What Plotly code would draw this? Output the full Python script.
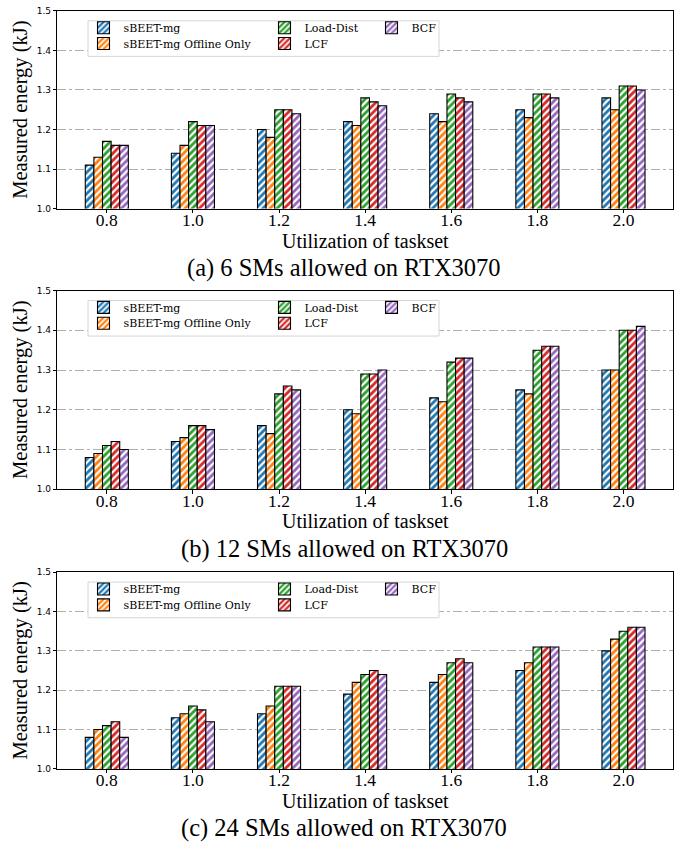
import plotly.graph_objects as go

# ---------------- data ----------------
categories = ["0.8", "1.0", "1.2", "1.4", "1.6", "1.8", "2.0"]
series_names = ["sBEET-mg", "sBEET-mg Offline Only", "Load-Dist", "LCF", "BCF"]
series_colors = ["#1f77b4", "#ff7f0e", "#2ca02c", "#d62728", "#9467bd"]

# (a) 6 SMs
a_sbeet = [1.11, 1.14, 1.20, 1.22, 1.24, 1.25, 1.28]
a_offline = [1.13, 1.16, 1.18, 1.21, 1.22, 1.23, 1.25]
a_loaddist = [1.17, 1.22, 1.25, 1.28, 1.29, 1.29, 1.31]
a_lcf = [1.16, 1.21, 1.25, 1.27, 1.28, 1.29, 1.31]
a_bcf = [1.16, 1.21, 1.24, 1.26, 1.27, 1.28, 1.30]

# (b) 12 SMs
b_sbeet = [1.08, 1.12, 1.16, 1.20, 1.23, 1.25, 1.30]
b_offline = [1.09, 1.13, 1.14, 1.19, 1.22, 1.24, 1.30]
b_loaddist = [1.11, 1.16, 1.24, 1.29, 1.32, 1.35, 1.40]
b_lcf = [1.12, 1.16, 1.26, 1.29, 1.33, 1.36, 1.40]
b_bcf = [1.10, 1.15, 1.25, 1.30, 1.33, 1.36, 1.41]

# (c) 24 SMs
c_sbeet = [1.08, 1.13, 1.14, 1.19, 1.22, 1.25, 1.30]
c_offline = [1.10, 1.14, 1.16, 1.22, 1.24, 1.27, 1.33]
c_loaddist = [1.11, 1.16, 1.21, 1.24, 1.27, 1.31, 1.35]
c_lcf = [1.12, 1.15, 1.21, 1.25, 1.28, 1.31, 1.36]
c_bcf = [1.08, 1.12, 1.21, 1.24, 1.27, 1.31, 1.36]

captions = ["(a) 6 SMs allowed on RTX3070",
            "(b) 12 SMs allowed on RTX3070",
            "(c) 24 SMs allowed on RTX3070"]
y_ticks = [1.0, 1.1, 1.2, 1.3, 1.4, 1.5]

panels_data = [
    [a_sbeet, a_offline, a_loaddist, a_lcf, a_bcf],
    [b_sbeet, b_offline, b_loaddist, b_lcf, b_bcf],
    [c_sbeet, c_offline, c_loaddist, c_lcf, c_bcf],
]

# ---------------- layout helpers ----------------
W, H = 694, 848
PL, PR = 57.3, 673.0
panel_px = [(6, 206), (289, 490), (574, 773)]


def px_x(x):
    return x / W


def px_y(y):
    return 1 - y / H


SERIF = "Liberation Serif, Times New Roman, serif"
LEG_FONT = "DejaVu Serif, serif"

fig = go.Figure()

# legend cell (column, row) for each series, matplotlib ncol=3 ordering
leg_col = [0, 0, 1, 1, 2]
leg_row = [0, 1, 0, 1, 0]
col_symbol_center = [103.5, 284.5, 391.5]

layout_extra = {}
shapes = []
annotations = []

for p, (ytop, ybot) in enumerate(panel_px):
    xa = "x" if p == 0 else f"x{p+1}"
    ya = "y" if p == 0 else f"y{p+1}"
    for s, name in enumerate(series_names):
        leg_idx = p * 5 + s + 1
        leg_name = "legend" if leg_idx == 1 else f"legend{leg_idx}"
        fig.add_trace(go.Bar(
            x=categories, y=panels_data[p][s], name=name,
            xaxis=xa, yaxis=ya, legend=leg_name,
            marker=dict(color="white",
                        line=dict(color="black", width=1.1),
                        pattern=dict(shape="/", fgcolor=series_colors[s],
                                     bgcolor="white", size=5, solidity=0.55,
                                     fillmode="replace")),
            hoverinfo="x+y+name",
        ))
        layout_extra[leg_name] = dict(
            x=px_x(col_symbol_center[leg_col[s]] - 20), xanchor="left",
            y=px_y(ytop + 17 + 16 * leg_row[s]), yanchor="middle",
            bgcolor="rgba(0,0,0,0)", borderwidth=0,
            font=dict(family=LEG_FONT, size=11, color="black"),
            itemclick=False, itemdoubleclick=False,
        )
    # axes
    xkey = "xaxis" if p == 0 else f"xaxis{p+1}"
    ykey = "yaxis" if p == 0 else f"yaxis{p+1}"
    layout_extra[xkey] = dict(
        domain=[px_x(PL), px_x(PR)], anchor=ya, type="category",
        range=[-0.575, 6.575], showline=True, linecolor="black", linewidth=1,
        mirror=True, ticks="outside", ticklen=3.5, tickcolor="black",
        ticklabelstandoff=-8,
        tickfont=dict(family=SERIF, size=17.5, color="black"),
        showgrid=False, zeroline=False, fixedrange=True,
    )
    layout_extra[ykey] = dict(
        domain=[px_y(ybot), px_y(ytop)], anchor=xa,
        range=[1.0, 1.5], tickvals=y_ticks, tickformat=".1f",
        showline=True, linecolor="black", linewidth=1, mirror=True,
        ticks="outside", ticklen=3.5, tickcolor="black",
        tickfont=dict(family="DejaVu Sans, sans-serif", size=9, color="black"),
        showgrid=True, gridcolor="#b0b0b0", gridwidth=1, griddash="dashdot",
        zeroline=False, fixedrange=True,
    )
    # legend frame
    shapes.append(dict(type="rect", xref="paper", yref="paper",
                       x0=px_x(88), x1=px_x(439),
                       y0=px_y(ytop + 46), y1=px_y(ytop + 10),
                       fillcolor="white", line=dict(color="#d6d6d6", width=1),
                       layer="above"))
    # axis titles & caption
    annotations.append(dict(text="Utilization of taskset", xref="paper", yref="paper",
                            x=px_x(365), y=px_y(ybot + 32.5), xanchor="center",
                            yanchor="middle", showarrow=False,
                            font=dict(family=SERIF, size=20, color="black")))
    annotations.append(dict(text=captions[p], xref="paper", yref="paper",
                            x=px_x(344), y=px_y(ybot + 60), xanchor="center",
                            yanchor="middle", showarrow=False,
                            font=dict(family=SERIF, size=24.5, color="black")))
    annotations.append(dict(text="Measured energy (kJ)", xref="paper", yref="paper",
                            x=px_x(21), y=px_y((ytop + ybot) / 2), xanchor="center",
                            yanchor="middle", showarrow=False, textangle=-90,
                            font=dict(family=SERIF, size=20.5, color="black")))

fig.update_layout(
    width=W, height=H, margin=dict(l=0, r=0, t=0, b=0),
    paper_bgcolor="white", plot_bgcolor="white",
    barmode="group", bargap=0.5, bargroupgap=0,
    showlegend=True, shapes=shapes, annotations=annotations,
    **layout_extra,
)

fig.write_html("out.html")
